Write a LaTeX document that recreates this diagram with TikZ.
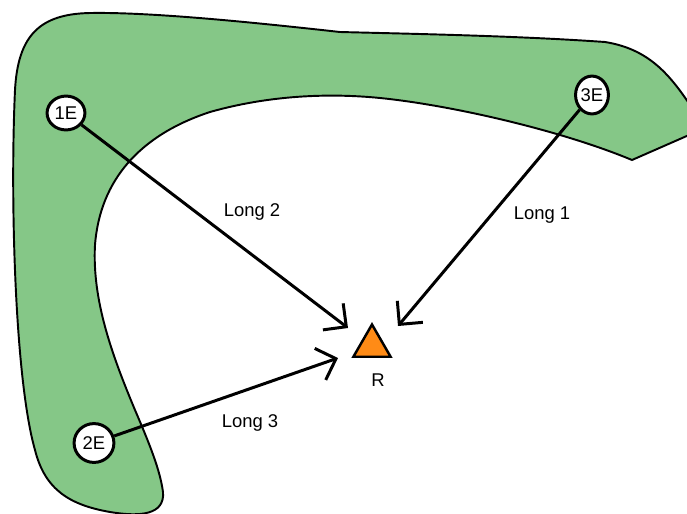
\documentclass[tikz,border=0pt]{standalone}
\usepackage{fontspec}
\setmainfont{Liberation Sans}
\usetikzlibrary{arrows.meta,shapes.geometric}
\definecolor{zone}{RGB}{133,199,135}
\definecolor{recv}{RGB}{255,139,22}
\tikzset{
  site/.style={ellipse, draw=black, line width=1.7pt, fill=white, inner sep=0pt,
    font=\fontsize{10.5pt}{11pt}\selectfont},
  ray/.style={line width=1.7pt, -{Straight Barb[length=9.5pt,width=19pt,line width=1.7pt]}},
  raylabel/.style={font=\fontsize{10.5pt}{12pt}\selectfont},
}
\begin{document}
\begin{tikzpicture}[x=0.02cm, y=-0.02cm]
\useasboundingbox (0,0) rectangle (687,514);
% green band
\draw[fill=zone, line width=1.1pt]
  (632,160) -- (705,128) -- (700,120)
  .. controls (675,82) and (655,50) .. (605,42)
  .. controls (520,36) and (420,34) .. (340,32)
  .. controls (250,22) and (150,12) .. (90,13)
  .. controls (40,14) and (18,35) .. (15,90)
  .. controls (10,200) and (15,380) .. (35,450)
  .. controls (45,490) and (70,505) .. (110,512)
  .. controls (140,517) and (165,515) .. (163,492)
  .. controls (160,470) and (150,445) .. (135,410)
  .. controls (112,355) and (92,300) .. (95,245)
  .. controls (100,180) and (140,135) .. (210,112)
  .. controls (270,95) and (330,93) .. (380,98)
  .. controls (450,105) and (560,130) .. (632,160) -- cycle;
% receiver
\node[regular polygon, regular polygon sides=3, draw=black, line width=1.4pt,
  fill=recv, minimum size=0.86cm, inner sep=0pt] (R) at (372,346) {};
\node[raylabel] (Rl) at (378,380) {R};
% sources
\node[site, minimum width=38pt*0.567, minimum height=34pt*0.567] (s1) at (66,113) {1E};
\node[site, minimum width=33pt*0.567, minimum height=38pt*0.567] (s3) at (592,95) {3E};
\node[site, minimum width=40pt*0.567, minimum height=39pt*0.567] (s2) at (94,443) {2E};
% arrow ends
\coordinate (t1) at (348,328);
\coordinate (t3) at (398,326);
\coordinate (t2) at (338,358);
\draw[ray] (s1) -- (t1);
\draw[ray] (s3) -- (t3);
\draw[ray] (s2) -- (t2);
% labels
\node[raylabel] (l2) at (252,212) {Long 2};
\node[raylabel] (l1) at (542,215) {Long 1};
\node[raylabel] (l3) at (250,423) {Long 3};
\end{tikzpicture}
\end{document}
